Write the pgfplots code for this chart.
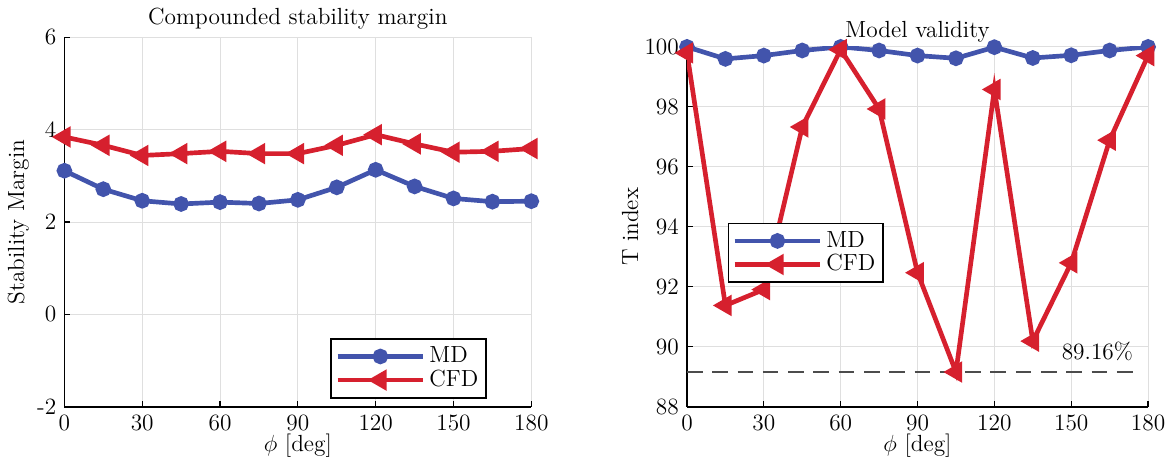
\documentclass[12pt,border=0pt]{standalone}
\usepackage{pgfplots}
\pgfplotsset{compat=1.18}
\definecolor{mdblue}{RGB}{66,84,172}
\definecolor{cfdred}{RGB}{214,32,46}
\pgfplotsset{
  panel/.style={
    scale only axis,
    axis x line*=bottom, axis y line*=left,
    axis line style={-, line width=0.8pt},
    tick align=inside, major tick length=3pt, tick style={black, line width=0.6pt},
    grid=major, grid style={gray!25, line width=0.5pt},
    xmin=0, xmax=180, xtick={0,30,...,180},
    xlabel={$\phi$ [deg]},
    xlabel style={yshift=6pt},
    legend cell align=left,
    legend style={draw=black, line width=0.9pt, fill=white, font=\normalsize, inner sep=2pt, row sep=-2pt},
    legend image code/.code={\draw[mark repeat=2, mark phase=2] plot coordinates {(0pt,0pt) (22pt,0pt) (44pt,0pt)};},
  },
  mdline/.style={mdblue, line width=2.4pt, mark=*, mark size=2.8pt, mark options={solid}},
  cfdline/.style={cfdred, line width=2.4pt, mark=triangle*, mark size=4pt, mark options={solid, rotate=90}},
}
\begin{document}
\begin{tikzpicture}
\begin{axis}[
    panel,
    at={(0pt,0pt)},
    width=240pt, height=190pt,
    ymin=-2, ymax=6, ytick={-2,0,2,4,6},
    yticklabels={-2,0,2,4,6},
    ylabel={Stability Margin},
    ylabel style={yshift=-4pt},
    title={Compounded stability margin},
    title style={yshift=-6pt},
    legend style={at={(0.905,0.022)}, anchor=south east},
]
\addplot[mdline] coordinates {
    (0,3.11) (15,2.71) (30,2.46) (45,2.39) (60,2.43) (75,2.40) (90,2.48)
    (105,2.75) (120,3.13) (135,2.77) (150,2.51) (165,2.44) (180,2.45)
};
\addlegendentry{MD}
\addplot[cfdline] coordinates {
    (0,3.84) (15,3.66) (30,3.44) (45,3.48) (60,3.53) (75,3.48) (90,3.48)
    (105,3.66) (120,3.89) (135,3.69) (150,3.51) (165,3.53) (180,3.59)
};
\addlegendentry{CFD}
\end{axis}

\begin{axis}[
    panel,
    at={(320pt,0pt)},
    width=237pt, height=185pt,
    ymin=88, ymax=100, ytick={88,90,...,100},
    ylabel={T index},
    ylabel style={yshift=-5pt},
    title={Model validity},
    title style={yshift=-8pt},
    legend style={at={(0.088,0.512)}, anchor=north west},
]
\addplot[gray!60!black, line width=1.5pt, dash pattern=on 8pt off 5pt, forget plot]
    coordinates {(0,89.16) (177,89.16)};
\addplot[mdline] coordinates {
    (0,100) (15,99.60) (30,99.71) (45,99.88) (60,100) (75,99.88) (90,99.71)
    (105,99.62) (120,99.99) (135,99.63) (150,99.72) (165,99.88) (180,100)
};
\addlegendentry{MD}
\addplot[cfdline] coordinates {
    (0,99.80) (15,91.38) (30,91.91) (45,97.33) (60,99.91) (75,97.93) (90,92.47)
    (105,89.16) (120,98.58) (135,90.19) (150,92.80) (165,96.89) (180,99.71)
};
\addlegendentry{CFD}
\node[anchor=south east, inner sep=1pt] at (axis cs:175,89.45) {89.16\%};
\end{axis}
\end{tikzpicture}
\end{document}
